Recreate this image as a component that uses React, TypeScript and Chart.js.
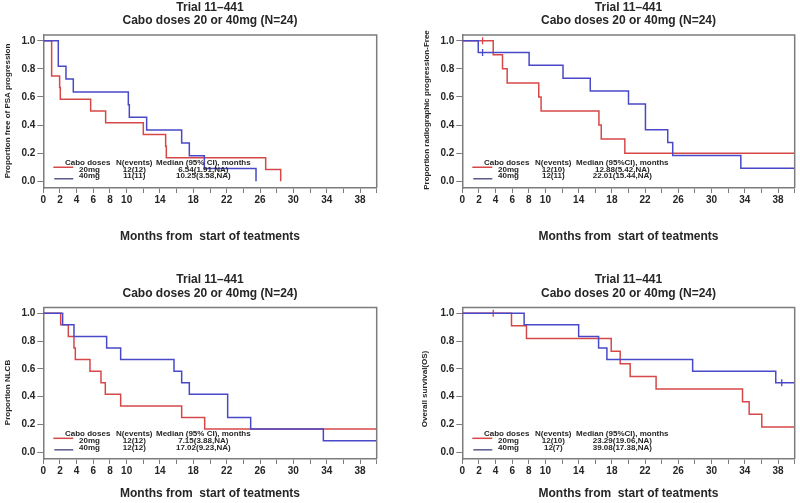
import React, { useEffect, useRef } from 'react';
import { Chart, registerables } from 'chart.js';

Chart.register(...registerables);

// ---------- shared axis data ----------
const xTickValues = [0, 2, 4, 6, 8, 10, 12, 14, 16, 18, 20, 22, 24, 26, 28, 30, 32, 34, 36, 38, 40];
const xLabeledTicks = [0, 2, 4, 6, 8, 10, 14, 18, 22, 26, 30, 34, 38];
const yTickValues = [0, 0.2, 0.4, 0.6, 0.8, 1.0];
const followUpEnd = 40;

const titleLine1 = 'Trial 11–441';
const titleLine2 = 'Cabo doses 20 or 40mg (N=24)';
const xAxisTitle = 'Months from  start of teatments';
const doseLabels = ['20mg', '40mg'];
const legendHeadDose = 'Cabo doses';
const legendHeadN = 'N(events)';

// ---------- Panel 1: PSA progression ----------
const psaTimes20 = [0, 1.0, 1.96, 2.04, 5.68, 7.48, 12.0, 14.68, 14.76, 26.68, 28.48];
const psaSurv20 = [1, 0.75, 0.667, 0.583, 0.5, 0.417, 0.333, 0.25, 0.167, 0.083, 0];
const psaTimes40 = [0, 1.8, 2.72, 3.6, 10.2, 10.32, 12.4, 16.6, 17.52, 19.32, 25.52];
const psaSurv40 = [1, 0.818, 0.727, 0.636, 0.545, 0.455, 0.364, 0.273, 0.182, 0.091, 0];
const psaCensorT20: number[] = [];
const psaCensorS20: number[] = [];
const psaCensorT40: number[] = [];
const psaCensorS40: number[] = [];
const psaN = ['12(12)', '11(11)'];
const psaMedian = ['6.54(1.91,NA)', '10.25(3.58,NA)'];

// ---------- Panel 2: radiographic PFS ----------
const rpfsTimes20 = [0, 3.72, 4.84, 5.4, 9.2, 9.48, 16.44, 16.72, 19.56];
const rpfsSurv20 = [1, 0.9, 0.8, 0.7, 0.6, 0.5, 0.4, 0.3, 0.2];
const rpfsTimes40 = [0, 1.92, 8.04, 12.12, 15.4, 20.0, 22.04, 24.72, 25.32, 33.52];
const rpfsSurv40 = [1, 0.917, 0.825, 0.733, 0.642, 0.55, 0.367, 0.275, 0.183, 0.092];
const rpfsCensorT20 = [2.44];
const rpfsCensorS20 = [1.0];
const rpfsCensorT40 = [2.44];
const rpfsCensorS40 = [0.917];
const rpfsN = ['12(10)', '12(11)'];
const rpfsMedian = ['12.88(5.42,NA)', '22.01(15.44,NA)'];

// ---------- Panel 3: NLCB ----------
const nlcbTimes20 = [0, 2.08, 3.0, 3.68, 3.84, 5.6, 6.92, 7.44, 9.28, 16.6, 19.36];
const nlcbSurv20 = [1, 0.917, 0.833, 0.75, 0.667, 0.583, 0.5, 0.417, 0.333, 0.25, 0.167];
const nlcbTimes40 = [0, 2.32, 3.68, 7.6, 9.28, 15.68, 16.6, 17.52, 22.12, 24.88, 33.6];
const nlcbSurv40 = [1, 0.917, 0.833, 0.75, 0.667, 0.583, 0.5, 0.417, 0.25, 0.167, 0.083];
const nlcbCensorT20: number[] = [];
const nlcbCensorS20: number[] = [];
const nlcbCensorT40: number[] = [];
const nlcbCensorS40: number[] = [];
const nlcbN = ['12(12)', '12(12)'];
const nlcbMedian = ['7.15(3.88,NA)', '17.02(9.23,NA)'];

// ---------- Panel 4: Overall survival ----------
const osTimes20 = [0, 5.92, 7.72, 17.92, 19.0, 20.2, 23.32, 33.72, 34.52, 36.04];
const osSurv20 = [1, 0.909, 0.818, 0.727, 0.636, 0.545, 0.455, 0.364, 0.273, 0.182];
const osTimes40 = [0, 7.44, 14.0, 16.4, 17.4, 27.72, 37.72];
const osSurv40 = [1, 0.917, 0.833, 0.75, 0.667, 0.583, 0.5];
const osCensorT20 = [3.72];
const osCensorS20 = [1.0];
const osCensorT40 = [38.44];
const osCensorS40 = [0.5];
const osN = ['12(10)', '12(7)'];
const osMedian = ['23.29(19.06,NA)', '39.08(17.38,NA)'];

// ---------- styling ----------
const AXIS = '#7c7c7c';
const TEXT = '#262626';
const RED = '#d64848';
const BLUE = '#4848c8';
const BLUE_LEGEND = '#5a5a8c';
const FONT = '"Liberation Sans", Arial, Helvetica, sans-serif';

Chart.defaults.font.family = FONT;

type Panel = {
  left: number; top: number; w: number; h: number;
  cl: number; cr: number; ct: number; cb: number;
  t1y: number; t2y: number; xty: number; ytx: number; yty: number;
  yTitle: string; medHead: string;
  t20: number[]; s20: number[]; t40: number[]; s40: number[];
  ct20: number[]; cs20: number[]; ct40: number[]; cs40: number[];
  nEv: string[]; med: string[];
};

const panels: Panel[] = [
  {
    left: 0, top: 0, w: 400, h: 252, cl: 43.3, cr: 376.7, ct: 35, cb: 188,
    t1y: 7.3, t2y: 20.5, xty: 237, ytx: 8, yty: 111,
    yTitle: 'Proportion free of PSA progression', medHead: 'Median (95% CI), months',
    t20: psaTimes20, s20: psaSurv20, t40: psaTimes40, s40: psaSurv40,
    ct20: psaCensorT20, cs20: psaCensorS20, ct40: psaCensorT40, cs40: psaCensorS40,
    nEv: psaN, med: psaMedian,
  },
  {
    left: 400, top: 0, w: 400, h: 252, cl: 62.3, cr: 395.3, ct: 35, cb: 188,
    t1y: 7.3, t2y: 20.5, xty: 237, ytx: 26.7, yty: 110,
    yTitle: 'Proportion radiographic progression-Free', medHead: 'Median (95%CI), months',
    t20: rpfsTimes20, s20: rpfsSurv20, t40: rpfsTimes40, s40: rpfsSurv40,
    ct20: rpfsCensorT20, cs20: rpfsCensorS20, ct40: rpfsCensorT40, cs40: rpfsCensorS40,
    nEv: rpfsN, med: rpfsMedian,
  },
  {
    left: 0, top: 252, w: 400, h: 251, cl: 43.3, cr: 376.7, ct: 55.5, cb: 207,
    t1y: 28, t2y: 41.3, xty: 241.3, ytx: 7.3, yty: 140.5,
    yTitle: 'Proportion NLCB', medHead: 'Median (95% CI), months',
    t20: nlcbTimes20, s20: nlcbSurv20, t40: nlcbTimes40, s40: nlcbSurv40,
    ct20: nlcbCensorT20, cs20: nlcbCensorS20, ct40: nlcbCensorT40, cs40: nlcbCensorS40,
    nEv: nlcbN, med: nlcbMedian,
  },
  {
    left: 400, top: 252, w: 400, h: 251, cl: 62.3, cr: 395.3, ct: 55.5, cb: 207,
    t1y: 28, t2y: 41.3, xty: 241.3, ytx: 25, yty: 137,
    yTitle: 'Overall survival(OS)', medHead: 'Median (95%CI), months',
    t20: osTimes20, s20: osSurv20, t40: osTimes40, s40: osSurv40,
    ct20: osCensorT20, cs20: osCensorS20, ct40: osCensorT40, cs40: osCensorS40,
    nEv: osN, med: osMedian,
  },
];

function stepPoints(t: number[], s: number[]) {
  const pts = t.map((x, i) => ({ x, y: s[i] }));
  const last = s[s.length - 1];
  if (last > 0) pts.push({ x: followUpEnd, y: last });
  return pts;
}

function censorPoints(t: number[], s: number[]) {
  return t.map((x, i) => ({ x, y: s[i] }));
}

function makeDecor(p: Panel) {
  return {
    id: 'decor',
    afterDraw(chart: any) {
      const { ctx, chartArea: ca } = chart;
      const yScale = chart.scales.y;
      ctx.save();
      // top & right frame
      ctx.strokeStyle = AXIS;
      ctx.lineWidth = 1.5;
      ctx.beginPath();
      ctx.moveTo(ca.left, ca.top);
      ctx.lineTo(ca.right, ca.top);
      ctx.lineTo(ca.right, ca.bottom);
      ctx.stroke();

      const cx = (ca.left + ca.right) / 2;
      ctx.fillStyle = TEXT;
      ctx.textAlign = 'center';
      ctx.textBaseline = 'middle';
      ctx.font = `bold 12px ${FONT}`;
      ctx.fillText(titleLine1, cx, p.t1y);
      ctx.fillText(titleLine2, cx, p.t2y);
      ctx.fillText(xAxisTitle, cx, p.xty);

      // y title
      ctx.save();
      ctx.translate(p.ytx, p.yty);
      ctx.rotate(-Math.PI / 2);
      ctx.font = `bold 8px ${FONT}`;
      ctx.fillText(p.yTitle, 0, 0);
      ctx.restore();

      // legend table
      const y0 = yScale.getPixelForValue(0);
      const L = ca.left;
      ctx.font = `bold 8px ${FONT}`;
      ctx.textAlign = 'left';
      ctx.fillText(legendHeadDose, L + 21.7, y0 - 18.5);
      ctx.textAlign = 'center';
      ctx.fillText(legendHeadN, L + 91, y0 - 18.5);
      ctx.fillText(p.medHead, L + 160, y0 - 18.5);
      const rowY = [y0 - 11.7, y0 - 5];
      for (let i = 0; i < 2; i++) {
        ctx.textAlign = 'left';
        ctx.fillText(doseLabels[i], L + 35.7, rowY[i]);
        ctx.textAlign = 'center';
        ctx.fillText(p.nEv[i], L + 91, rowY[i]);
        ctx.fillText(p.med[i], L + 160, rowY[i]);
      }
      ctx.lineWidth = 1.5;
      ctx.strokeStyle = RED;
      ctx.beginPath();
      ctx.moveTo(L + 10, y0 - 14);
      ctx.lineTo(L + 30, y0 - 14);
      ctx.stroke();
      ctx.strokeStyle = BLUE_LEGEND;
      ctx.beginPath();
      ctx.moveTo(L + 11, y0 - 2.5);
      ctx.lineTo(L + 30, y0 - 2.5);
      ctx.stroke();
      ctx.restore();
    },
  };
}

function PanelChart({ p }: { p: Panel }) {
  const ref = useRef<HTMLCanvasElement | null>(null);
  useEffect(() => {
    if (!ref.current) return;
    const tickFont = { family: FONT, size: 10, weight: 'bold' as const };
    const chart = new Chart(ref.current, {
      type: 'line',
      data: {
        datasets: [
          {
            type: 'line', data: stepPoints(p.t40, p.s40), borderColor: BLUE, borderWidth: 1.5,
            pointRadius: 0, stepped: true, fill: false,
          },
          {
            type: 'line', data: stepPoints(p.t20, p.s20), borderColor: RED, borderWidth: 1.5,
            pointRadius: 0, stepped: true, fill: false,
          },
          {
            type: 'scatter', data: censorPoints(p.ct40, p.cs40), borderColor: BLUE, borderWidth: 1.3,
            pointStyle: 'line', rotation: 90, pointRadius: 3.5,
          },
          {
            type: 'scatter', data: censorPoints(p.ct20, p.cs20), borderColor: RED, borderWidth: 1.3,
            pointStyle: 'line', rotation: 90, pointRadius: 3.5,
          },
        ] as any,
      },
      options: {
        responsive: false,
        animation: false,
        devicePixelRatio: 1,
        layout: { padding: { left: 0, top: p.ct, right: p.w - p.cr, bottom: 0 } },
        plugins: { legend: { display: false }, tooltip: { enabled: false }, title: { display: false } },
        scales: {
          x: {
            type: 'linear', min: 0, max: 40,
            afterBuildTicks: (s: any) => { s.ticks = xTickValues.map((v) => ({ value: v })); },
            afterFit: (s: any) => { s.height = p.h - p.cb; },
            ticks: {
              autoSkip: false, maxRotation: 0, minRotation: 0, padding: 1,
              color: TEXT, font: tickFont,
              callback: (v: any) => (xLabeledTicks.includes(Number(v)) ? String(v) : ''),
            },
            grid: { drawOnChartArea: false, drawTicks: true, tickLength: 5, color: AXIS, lineWidth: 1 },
            border: { display: true, color: AXIS, width: 1.5 },
          },
          y: {
            type: 'linear', min: -0.048, max: 1.041,
            afterBuildTicks: (s: any) => { s.ticks = yTickValues.map((v) => ({ value: v })); },
            afterFit: (s: any) => { s.width = p.cl; },
            ticks: {
              padding: 2, color: TEXT, font: tickFont,
              callback: (v: any) => Number(v).toFixed(1),
            },
            grid: { drawOnChartArea: false, drawTicks: true, tickLength: 6, color: AXIS, lineWidth: 1 },
            border: { display: true, color: AXIS, width: 1.5 },
          },
        },
      },
      plugins: [makeDecor(p)],
    } as any);
    return () => chart.destroy();
  }, [p]);
  return (
    <canvas
      ref={ref}
      width={p.w}
      height={p.h}
      style={{ position: 'absolute', left: p.left, top: p.top, width: p.w, height: p.h, display: 'block' }}
    />
  );
}

export default function App() {
  return (
    <div style={{ position: 'fixed', left: 0, top: 0, width: 800, height: 503, background: '#ffffff', overflow: 'hidden' }}>
      {panels.map((p, i) => (
        <PanelChart key={i} p={p} />
      ))}
    </div>
  );
}
